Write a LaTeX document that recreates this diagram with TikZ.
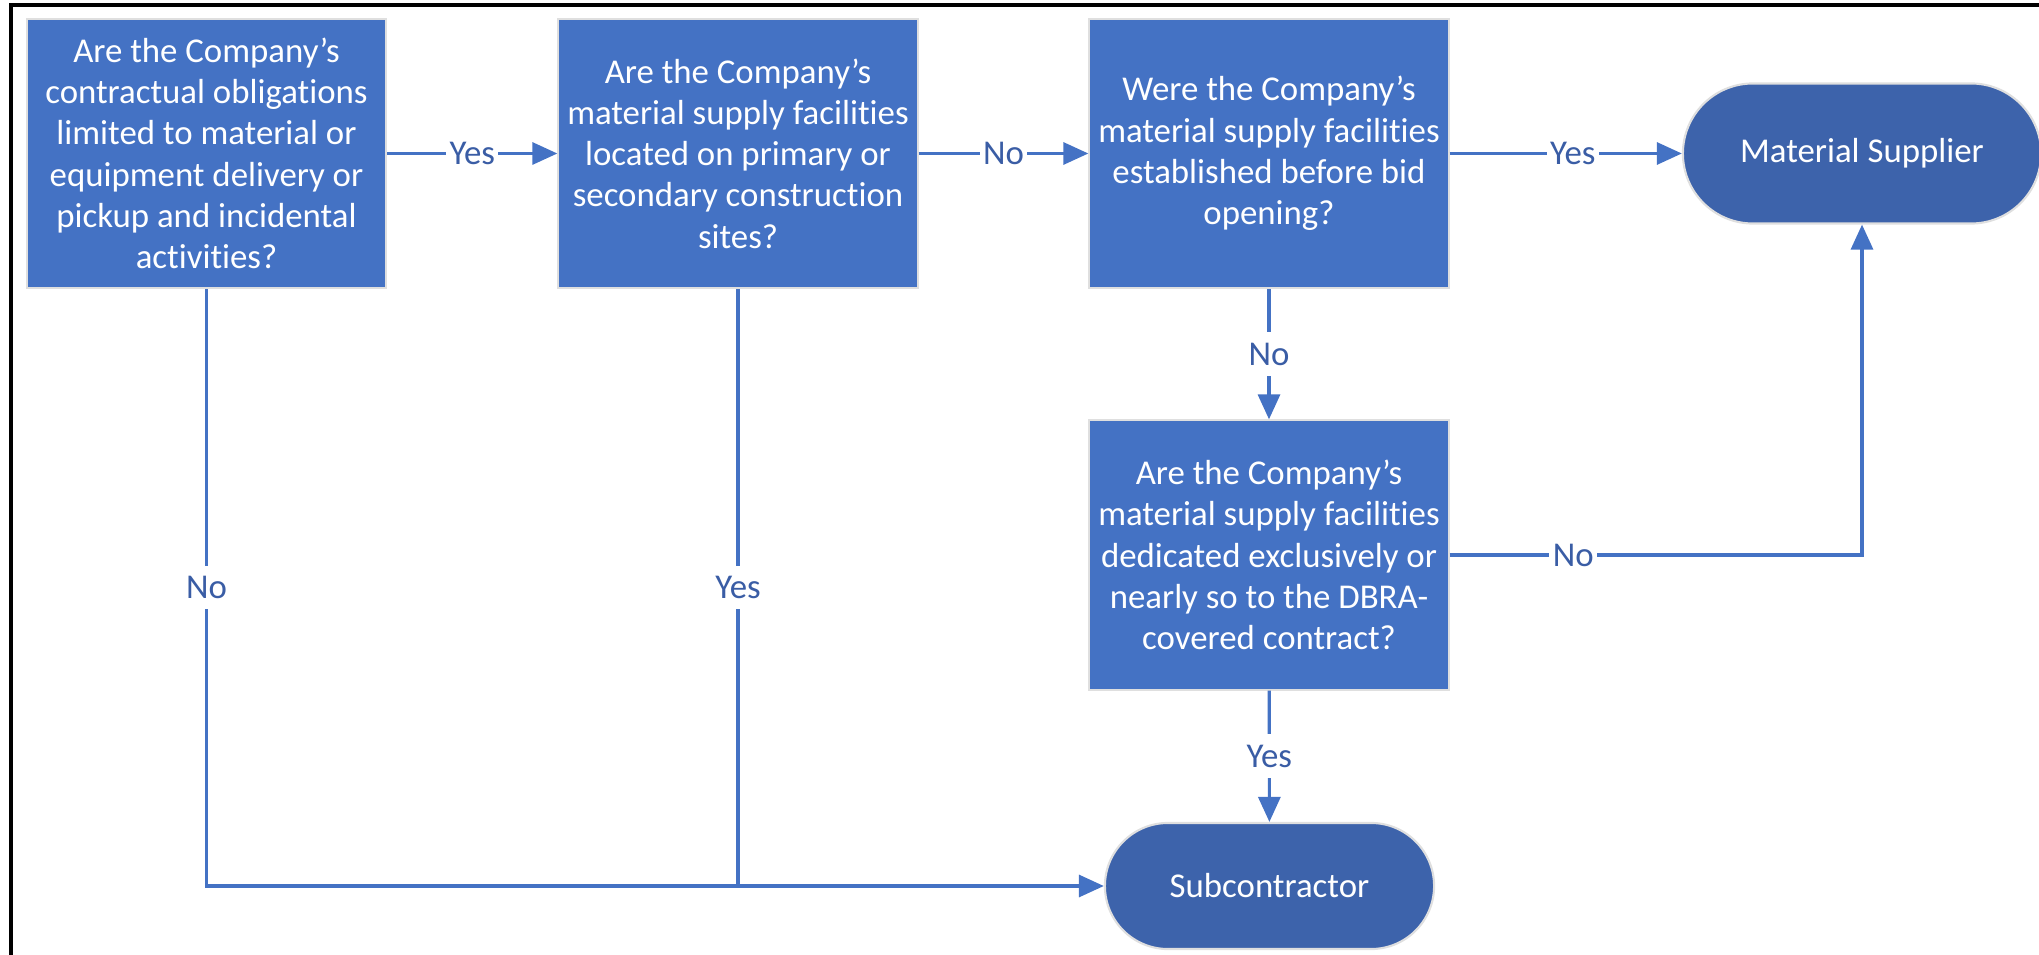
\documentclass[tikz,border=0pt]{standalone}
\usepackage{fontspec}
\setmainfont{Carlito}[Ligatures=NoCommon]
\usetikzlibrary{positioning, calc, arrows.meta}

\definecolor{boxblue}{HTML}{4472C4}
\definecolor{endblue}{HTML}{3D63AB}
\definecolor{lineblue}{HTML}{4472C4}
\definecolor{labelblue}{HTML}{3A5DA5}

\begin{document}
\begin{tikzpicture}[x=0.01cm, y=-0.01cm, >={Triangle[length=0.25cm, width=0.22cm]},
    question/.style={rectangle, fill=boxblue, draw=gray!25, line width=0.6pt,
        text=white, align=center, inner sep=0pt,
        minimum width=3.59cm, minimum height=2.69cm,
        font=\fontsize{9.9}{11.75}\selectfont},
    outcome/.style={rectangle, fill=endblue, draw=gray!25, line width=0.6pt,
        text=white, align=center, inner sep=0pt,
        font=\fontsize{9.9}{11.75}\selectfont},
    flow/.style={draw=lineblue, line width=0.9pt},
    answer/.style={fill=white, text=labelblue, inner xsep=1pt, inner ysep=3pt,
        font=\fontsize{9.9}{11.75}\selectfont}]

    % Page size and frame
    \useasboundingbox (0,0) rectangle (2039,955);
    \draw[line width=0.9pt] (11,955) -- (11,5) -- (2039,5);

    % Questions
    \node[question] (q1) at (206.5,153.5) {Are the Company’s\\contractual obligations\\limited to material or\\equipment delivery or\\pickup and incidental\\activities?};
    \node[question] (q2) at (738,153.5) {Are the Company’s\\material supply facilities\\located on primary or\\secondary construction\\sites?};
    \node[question] (q3) at (1269,153.5) {Were the Company’s\\material supply facilities\\established before bid\\opening?};
    \node[question] (q4) at (1269,555) {Are the Company’s\\material supply facilities\\dedicated exclusively or\\nearly so to the DBRA-\\covered contract?};

    % Outcomes
    \node[outcome, minimum width=3.58cm, minimum height=1.40cm, rounded corners=0.7cm]
        (supplier) at (1862,153.5) {Material Supplier};
    \node[outcome, minimum width=3.29cm, minimum height=1.26cm, rounded corners=0.63cm]
        (sub) at (1269.5,886) {Subcontractor};

    % Connectors
    \draw[flow, ->] (q1) -- node[answer] {Yes} (q2);
    \draw[flow, ->] (q2) -- node[answer] {No} (q3);
    \draw[flow, ->] (q3) -- node[answer, pos=0.53] {Yes} (supplier);
    \draw[flow, ->] (q3) -- node[answer] {No} (q4);
    \draw[flow, ->] (q4) -- node[answer] {Yes} (sub);
    \draw[flow, ->] (q4) -| node[answer, pos=0.15] {No} (supplier);
    \draw[flow, ->] (q1) |- node[answer, pos=0.25] {No} (sub);
    \draw[flow] (q2) -- node[answer] {Yes} (q2 |- sub);

\end{tikzpicture}
\end{document}
